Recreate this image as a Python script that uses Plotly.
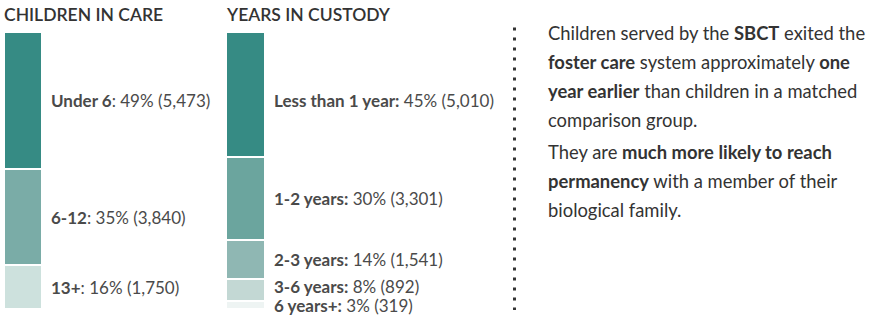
import plotly.graph_objects as go

# ---- data ----
care_groups = ["Under 6", "6-12", "13+"]
care_counts = [5473, 3840, 1750]
custody_groups = ["Less than 1 year", "1-2 years", "2-3 years", "3-6 years", "6 years+"]
custody_counts = [5010, 3301, 1541, 892, 319]
titles = ["CHILDREN IN CARE", "YEARS IN CUSTODY"]

# ---- styles ----
care_colors = ["#368b84", "#7aaca7", "#cde1dd"]
custody_colors = ["#368b84", "#6ba59e", "#8fb7b3", "#c3d8d4", "#eef4f3"]
custody_yshift = [-5.5, 0, 0, 3, 0]
W, H = 875, 330
FONT = "Lato"
DARK = "#333333"
GREY = "#4a4a4a"

total = sum(care_counts)
top_px, bot_px = 32, 309
scale = (bot_px - top_px) / total
y_range = [-(H - bot_px) / scale, bot_px / scale]

fig = go.Figure()


def add_stack(groups, counts, colors, xc, width, bold_colon, yshifts):
    # stacked from bottom: reverse order so first group is on top
    cum = 0
    for g, c, col, ys in reversed(list(zip(groups, counts, colors, yshifts))):
        fig.add_trace(go.Bar(x=[xc], y=[c], width=[width], marker=dict(color=col, line=dict(color="white", width=2)),
                             hoverinfo="skip", showlegend=False))
        center = cum + c / 2
        cum += c
        pct = round(100 * c / total)
        if bold_colon:
            txt = f"<b>{g}:</b> {pct}% ({c:,})"
        else:
            txt = f"<b>{g}</b>: {pct}% ({c:,})"
        fig.add_annotation(x=xc + width / 2 + 7, y=center, xref="x", yref="y", text=txt, showarrow=False,
                           xanchor="left", yanchor="middle", yshift=ys,
                           font=dict(family=FONT, size=17, color=GREY))


add_stack(care_groups, care_counts, care_colors, 23, 38, False, [0, 0, 0])
add_stack(custody_groups, custody_counts, custody_colors, 245.5, 39, True, custody_yshift)

for t, xp in zip(titles, [2, 224]):
    fig.add_annotation(x=xp, y=1 - 15 / H, xref="x", yref="paper", text=t, showarrow=False,
                       xanchor="left", yanchor="middle",
                       font=dict(family=FONT, size=17.5, color=DARK, weight=600))

# dotted divider
fig.add_shape(type="line", xref="x", yref="paper", x0=514.5, x1=514.5, y0=1 - 27.5 / H, y1=1 - 310 / H,
              line=dict(color=DARK, width=3, dash="3px,7px"))

lines = [
    "Children served by the <b>SBCT</b> exited the",
    "<b>foster care</b> system approximately <b>one</b>",
    "<b>year earlier</b> than children in a matched",
    "comparison group.",
    "They are <b>much more likely to reach</b>",
    "<b>permanency</b> with a member of their",
    "biological family.",
]
line_y = [33, 62, 91, 120, 152, 181, 210]
for ln, yp in zip(lines, line_y):
    fig.add_annotation(x=546, y=1 - yp / H, xref="x", yref="paper", text=ln, showarrow=False,
                       xanchor="left", yanchor="middle",
                       font=dict(family=FONT, size=18.4, color=DARK))

fig.update_layout(
    width=W, height=H, margin=dict(l=0, r=0, t=0, b=0),
    paper_bgcolor="white", plot_bgcolor="white", barmode="stack", bargap=0,
    xaxis=dict(range=[0, W], visible=False, fixedrange=True),
    yaxis=dict(range=y_range, visible=False, fixedrange=True),
    showlegend=False,
)
fig.write_html("out.html")
